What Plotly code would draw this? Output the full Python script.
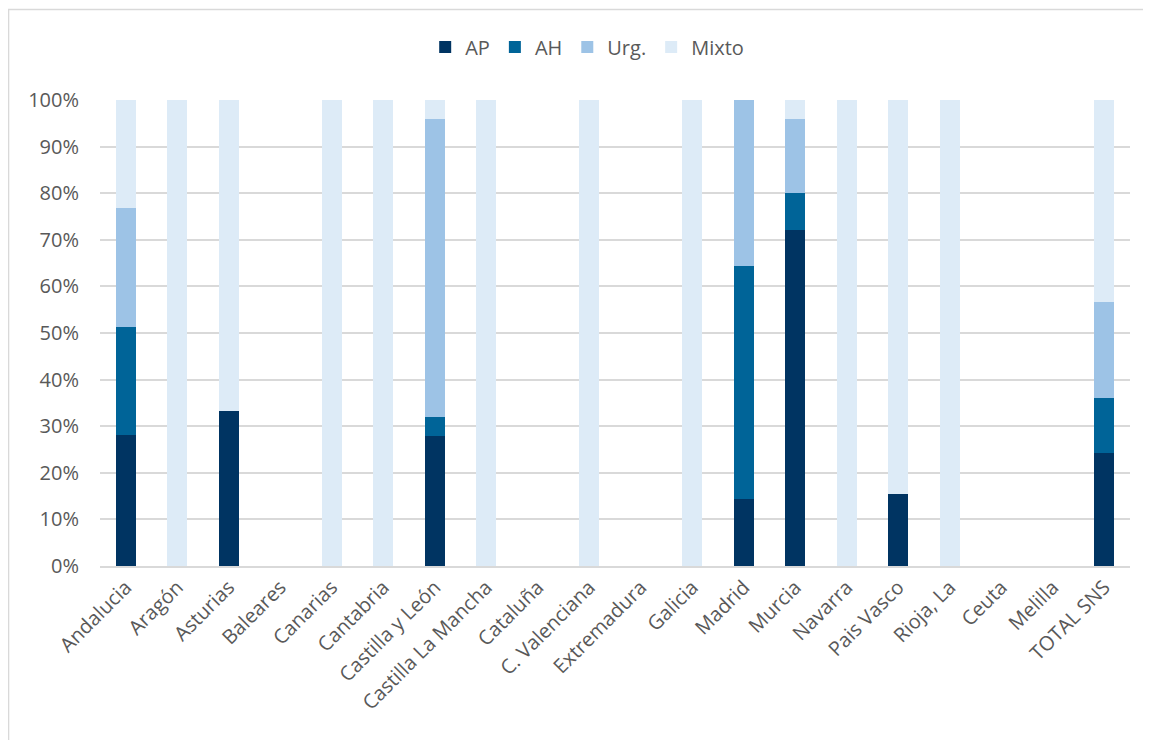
import plotly.graph_objects as go

categories = ["Andalucia", "Aragón", "Asturias", "Baleares", "Canarias", "Cantabria",
              "Castilla y León", "Castilla La Mancha", "Cataluña", "C. Valenciana",
              "Extremadura", "Galicia", "Madrid", "Murcia", "Navarra", "Pais Vasco",
              "Rioja, La", "Ceuta", "Melilla", "TOTAL SNS"]

ap    = [0.282, 0, 0.333, 0, 0, 0, 0.28, 0, 0, 0, 0, 0, 0.143, 0.72, 0, 0.154, 0, 0, 0, 0.242]
ah    = [0.231, 0, 0,     0, 0, 0, 0.04, 0, 0, 0, 0, 0, 0.50,  0.08, 0, 0,     0, 0, 0, 0.118]
urg   = [0.256, 0, 0,     0, 0, 0, 0.64, 0, 0, 0, 0, 0, 0.357, 0.16, 0, 0,     0, 0, 0, 0.207]
mixto = [0.231, 1, 0.667, 0, 1, 1, 0.04, 1, 0, 1, 0, 1, 0,     0.04, 1, 0.846, 1, 0, 0, 0.433]

series = [("AP", ap, "#003462"), ("AH", ah, "#006498"),
          ("Urg.", urg, "#9DC3E6"), ("Mixto", mixto, "#DDEBF7")]

fig = go.Figure()
for name, vals, color in series:
    fig.add_trace(go.Bar(x=categories, y=vals, name=name,
                         marker=dict(color=color, line=dict(width=0))))

FONT = "Open Sans, Liberation Sans, sans-serif"
fig.update_layout(
    barmode="stack",
    bargap=0.61,
    width=1143, height=732,
    margin=dict(l=92, r=21, t=92, b=174),
    paper_bgcolor="white", plot_bgcolor="white",
    font=dict(family=FONT, size=20, color="#595959"),
    showlegend=True,
    legend=dict(orientation="h", x=0.473, y=1.114, xanchor="center", yanchor="middle",
                font=dict(size=20, color="#595959"), traceorder="normal",
                itemwidth=30, bgcolor="rgba(0,0,0,0)"),
    xaxis=dict(tickangle=-45, showgrid=False, showline=True, linecolor="#d9d9d9",
               linewidth=1.5, ticks="", tickfont=dict(size=20, color="#595959")),
    yaxis=dict(range=[0, 1], tickformat=".0%", dtick=0.1, showgrid=True,
               gridcolor="#d9d9d9", gridwidth=1.5, zeroline=False, showline=False,
               ticks="", ticklabelstandoff=20, tickfont=dict(size=20, color="#595959")),
    shapes=[dict(type="rect", xref="paper", yref="paper",
                 x0=-0.0888, x1=1.05, y0=-0.42, y1=1.194,
                 line=dict(color="#d9d9d9", width=1.5), fillcolor="rgba(0,0,0,0)",
                 layer="below")],
)

fig.write_html("out.html")
